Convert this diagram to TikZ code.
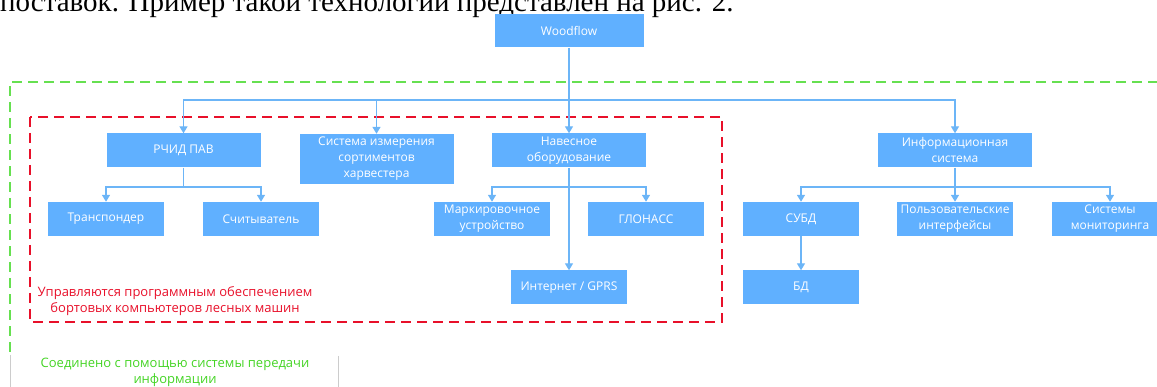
\documentclass[tikz,border=0pt]{standalone}
\usepackage{fontspec}
\setmainfont{Open Sans}
\newfontfamily\bodyserif{Liberation Serif}
\usetikzlibrary{arrows.meta}
\definecolor{wfblue}{HTML}{60B0FF}
\definecolor{wfline}{HTML}{6CB5F7}
\definecolor{wfred}{HTML}{E8102A}
\definecolor{wfgreen}{HTML}{66E050}
\definecolor{wfgreentext}{HTML}{44D424}

\begin{document}
\begin{tikzpicture}[x=1pt,y=-1pt,font=\fontsize{12}{16}\selectfont,
  box/.style={fill=wfblue,text=white,align=center,minimum width=116pt,minimum height=34pt,inner sep=1pt},
  wide/.style={box,minimum width=154pt},
  link/.style={draw=wfline,line width=1.4pt},
  arr/.style={link,-{Triangle[width=8pt,length=7pt]}},
  frame/.style={dash pattern=on 10pt off 6pt},
  note/.style={align=center,font=\fontsize{13}{16}\selectfont}]
\useasboundingbox (0,0) rectangle (1157,387);
\clip (0,0) rectangle (1157,387);
\node[anchor=base west,inner sep=0pt,font=\bodyserif\fontsize{29}{29}\selectfont] (head) at (0,12) {поставок. Пример такой технологии представлен на рис. 2.};
\draw[wfgreen,line width=1.2pt,frame] (10,352) -- (10,82) -- (1160,82);
\draw[black!20,line width=0.8pt] (10,355) -- (10,390) (338,356) -- (338,390);
\draw[wfred,line width=1.8pt,frame] (30,117) rectangle (722,322);
\node[box,minimum width=149pt,minimum height=33pt] (wf) at (569,31) {Woodflow};
\node[wide] (rfid) at (183.5,150.5) {РЧИД ПАВ};
\node[wide,minimum height=50pt] (meas) at (376.5,159) {Система измерения\\сортиментов\\харвестера};
\node[wide] (hang) at (569,150.5) {Навесное\\оборудование};
\node[wide] (info) at (955,150.5) {Информационная\\система};
\node[box] (trans) at (106,219) {Транспондер};
\node[box] (reader) at (261,219) {Считыватель};
\node[box] (mark) at (492,219) {Маркировочное\\устройство};
\node[box] (glon) at (646,219) {ГЛОНАСС};
\node[box] (inet) at (569,287.5) {Интернет / GPRS};
\node[box] (dbms) at (801,219) {СУБД};
\node[box] (ui) at (955,219) {Пользовательские\\интерфейсы};
\node[box] (mon) at (1110,219) {Системы\\мониторинга};
\node[box] (db) at (801,287.5) {БД};
\coordinate (bus) at (569,100);
\coordinate (rfidfork) at (183.5,187);
\coordinate (hangfork) at (569,187);
\coordinate (infofork) at (955,187);
\draw[arr] (wf) -- (hang);
\draw[arr] (bus) -| (rfid);
\draw[arr] (bus) -| (meas);
\draw[arr] (bus) -| (info);
\draw[link] (rfid) -- (rfidfork);
\draw[arr] (rfidfork) -| (trans);
\draw[arr] (rfidfork) -| (reader);
\draw[arr] (hang) -- (inet);
\draw[arr] (hangfork) -| (mark);
\draw[arr] (hangfork) -| (glon);
\draw[arr] (info) -- (ui);
\draw[arr] (infofork) -| (dbms);
\draw[arr] (infofork) -| (mon);
\draw[arr] (dbms) -- (db);
\node[note,text=wfred] (ctrl) at (175,301) {Управляются программным обеспечением\\бортовых компьютеров лесных машин};
\node[note,text=wfgreentext] (link) at (175,372) {Соединено с помощью системы передачи\\информации};
\end{tikzpicture}
\end{document}
